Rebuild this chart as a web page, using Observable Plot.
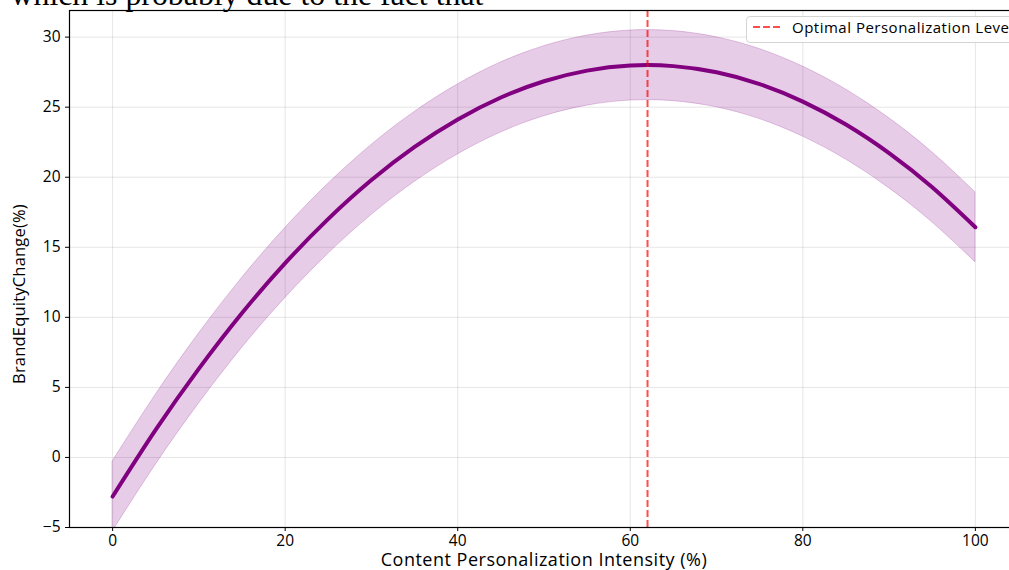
<!DOCTYPE html>
<html><head><meta charset="utf-8">
<script src="https://cdn.jsdelivr.net/npm/d3@7"></script>
<script src="https://cdn.jsdelivr.net/npm/@observablehq/plot@0.6"></script>
<style>
html,body{margin:0;padding:0;background:#fff;overflow:hidden;width:1009px;height:570px;}
#wrap{position:relative;width:1009px;height:570px;overflow:hidden;}
#wrap svg.chart{max-width:none !important;}
#legend{position:absolute;left:746px;top:16px;width:320px;height:25px;border:1px solid #d4d4d4;border-radius:4px;background:rgba(255,255,255,0.85);font-family:"Open Sans";font-size:15px;letter-spacing:0.5px;color:#000;}
#legend svg{position:absolute;left:5px;top:0;}
#legend span{position:absolute;left:45px;top:0px;line-height:21px;white-space:nowrap;}
</style></head>
<body><div id="wrap"></div>
<script>
const caption = "which is probably due to the fact that";
const xLabel = "Content Personalization Intensity (%)";
const yLabel = "BrandEquityChange(%)";
const legendLabel = "Optimal Personalization Level";
const intensity = [0,5,10,15,20,25,30,35,40,45,50,55,60,65,70,75,80,85,90,95,100];
const brandEquity = [-2.79,1.98,6.34,10.31,13.87,17.03,19.80,22.16,24.12,25.69,26.85,27.61,27.97,27.93,27.49,26.65,25.40,23.76,21.72,19.28,16.43];
const upperBound = [-0.29,4.48,8.84,12.81,16.37,19.53,22.30,24.66,26.62,28.19,29.35,30.11,30.47,30.43,29.99,29.15,27.90,26.26,24.22,21.78,18.93];
const lowerBound = [-5.29,-0.52,3.84,7.81,11.37,14.53,17.30,19.66,21.62,23.19,24.35,25.11,25.47,25.43,24.99,24.15,22.90,21.26,19.22,16.78,13.93];
const optimalLevel = [62];
const xTicks = [0,20,40,60,80,100];
const yTicks = [-5,0,5,10,15,20,25,30];

const data = intensity.map((x,i)=>({x, y:brandEquity[i], hi:upperBound[i], lo:lowerBound[i]}));
const fmt = d => d < 0 ? "\u2212" + Math.abs(d) : String(d);

const chart = Plot.plot({
  width:1020, height:570,
  marginLeft:69, marginRight:2, marginTop:10, marginBottom:43,
  className:"chart",
  style:{fontFamily:"Open Sans", fontSize:"15px", color:"#000", background:"transparent", overflow:"visible"},
  x:{domain:[-5,105]},
  y:{domain:[-5,31.9]},
  marks:[
    Plot.gridX(xTicks,{stroke:"#000", strokeOpacity:0.1}),
    Plot.gridY(yTicks,{stroke:"#000", strokeOpacity:0.1}),
    Plot.areaY(data,{x:"x", y1:"lo", y2:"hi", fill:"purple", fillOpacity:0.2, stroke:"purple", strokeOpacity:0.2, strokeWidth:1, curve:"natural", clip:true}),
    Plot.line(data,{x:"x", y:"y", stroke:"purple", strokeWidth:4, curve:"natural"}),
    Plot.ruleX(optimalLevel,{stroke:"red", strokeOpacity:0.7, strokeWidth:2, strokeDasharray:"7,3"}),
    Plot.frame({stroke:"#000", strokeWidth:1.2}),
    Plot.axisX(xTicks,{tickSize:4, tickPadding:3, label:null, fontSize:15.5}),
    Plot.axisY(yTicks,{tickSize:4, tickPadding:5, label:null, tickFormat:fmt, fontSize:15.5}),
    Plot.text([xLabel],{text:d=>d, frameAnchor:"bottom", textAnchor:"middle", dy:33, fontSize:18, lineAnchor:"middle"}),
    Plot.text([yLabel],{text:d=>d, frameAnchor:"left", textAnchor:"middle", dx:-50, dy:25, rotate:-90, fontSize:16.5, lineAnchor:"middle"}),
    Plot.text([caption],{text:d=>d, frameAnchor:"top-left", textAnchor:"start", dx:-59, dy:-6, lineAnchor:"bottom", fontSize:28, fontFamily:"Liberation Serif", fill:"#000"})
  ]
});
chart.style.maxWidth = "none";
document.getElementById("wrap").appendChild(chart);

const texts = [...chart.querySelectorAll("text")];
const xl = texts.find(t => t.textContent === xLabel);
if (xl) xl.style.letterSpacing = "0.5px";
const yl = texts.find(t => t.textContent === yLabel);
if (yl) yl.style.letterSpacing = "0.2px";

const leg = document.createElement("div");
leg.id = "legend";
leg.innerHTML = '<svg width="34" height="22"><line x1="1" y1="10" x2="31" y2="10" stroke="red" stroke-opacity="0.7" stroke-width="2" stroke-dasharray="7,3"/></svg><span></span>';
leg.querySelector("span").textContent = legendLabel;
document.getElementById("wrap").appendChild(leg);

// fit caption width to reference (~473px)
const capNode = texts.find(t => t.textContent === caption);
if (capNode) {
  const w = capNode.getComputedTextLength();
  if (w > 0) capNode.setAttribute("font-size", (28 * 473 / w).toFixed(2));
}
</script>
</body></html>
